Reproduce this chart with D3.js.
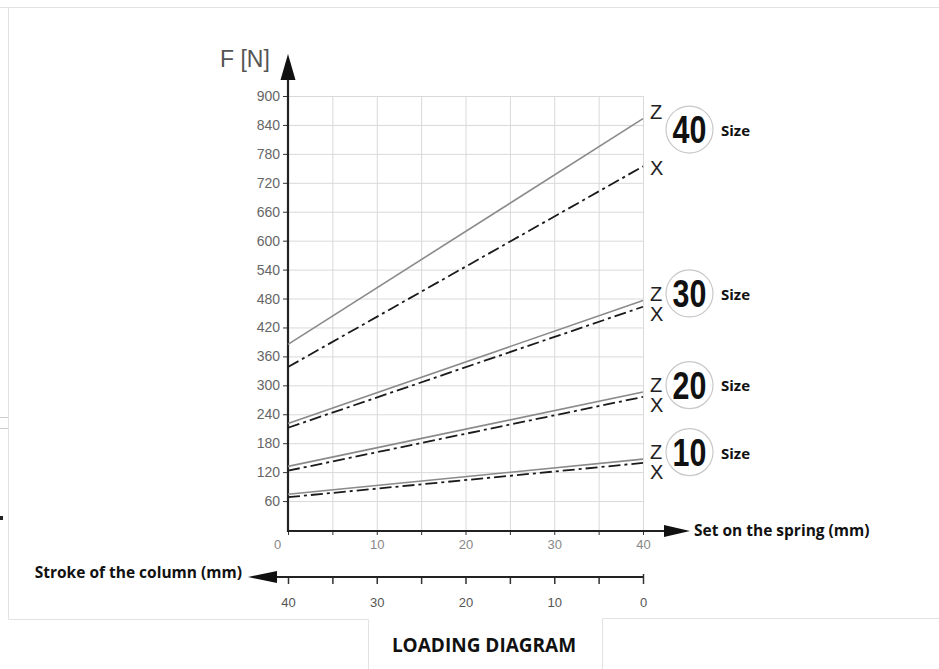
<!DOCTYPE html>
<html lang="en">
<head>
  <meta charset="UTF-8" />
  <title>Loading Diagram</title>
  <script src="https://d3js.org/d3.v7.min.js"></script>
  <style>
    body {margin: 0; background: #fff;}
    .tick line {stroke: #333;}
    .grid line {stroke: #d9d9d9; stroke-width: 1;}
    .bold {font-family: "Open Sans", sans-serif; font-weight: 700; fill: #111;}
  </style>
</head>
<body>
<script>
  // spring travel (mm) and force (N) at both ends of each line
  const travel = [0, 40];
  const sizes = ["40", "30", "20", "10"];
  const zStart = [385, 221, 132, 74];
  const zEnd = [853, 476, 286, 147];
  const xStart = [338, 212, 123, 68];
  const xEnd = [754, 463, 276, 139];
  const forceTicks = [60, 120, 180, 240, 300, 360, 420, 480, 540, 600, 660, 720, 780, 840, 900];
  const travelTicks = [0, 5, 10, 15, 20, 25, 30, 35, 40];

  const width = 939, height = 669;
  const svg = d3.select("body").append("svg")
                .attr("width", width).attr("height", height);

  //****PAGE FRAME****
  const frame = svg.append("g").attr("stroke", "#e2e2e2").attr("fill", "none");
  frame.append("path").attr("d", "M0,7.5H939 M8.5,7.5V619.5H368.5V669 M602.5,669V618.5H939");
  frame.append("path").attr("d", "M0,417.5H8 M0,428.5H8").attr("stroke", "#ccc");
  svg.append("rect").attr("x", 0).attr("y", 516).attr("width", 3).attr("height", 4).attr("fill", "#222");

  //****SCALES****
  const x = d3.scaleLinear().domain([0, 40]).range([288, 643]);
  const y = d3.scaleLinear().domain([0, 900]).range([530, 96]);
  const xStroke = d3.scaleLinear().domain([40, 0]).range([288, 643]);

  //****GRID****
  svg.append("g").attr("class", "grid")
     .selectAll("line.h").data(forceTicks).join("line")
     .attr("x1", x(0)).attr("x2", x(40))
     .attr("y1", d => y(d) + 0.5).attr("y2", d => y(d) + 0.5);
  svg.append("g").attr("class", "grid")
     .selectAll("line.v").data(travelTicks.slice(1)).join("line")
     .attr("x1", d => x(d) + 0.5).attr("x2", d => x(d) + 0.5)
     .attr("y1", y(900)).attr("y2", y(0));

  //****Y AXIS****
  const yAxis = svg.append("g")
     .attr("transform", `translate(${x(0)},0)`)
     .call(d3.axisLeft(y).tickValues(forceTicks).tickSize(5).tickPadding(3));
  yAxis.select(".domain").remove();
  yAxis.selectAll("text").attr("font-family", "Liberation Sans, Arial, sans-serif")
       .attr("font-size", 14).attr("fill", "#666");

  svg.append("line").attr("x1", x(0)).attr("x2", x(0))
     .attr("y1", y(0) + 2).attr("y2", 78)
     .attr("stroke", "#222").attr("stroke-width", 2.2);
  svg.append("path").attr("d", `M${x(0)},54 L${x(0) + 7.5},80 L${x(0) - 7.5},80 Z`).attr("fill", "#111");
  svg.append("text").attr("x", 220).attr("y", 67).text("F [N]")
     .attr("font-family", "Liberation Sans, Arial, sans-serif").attr("font-size", 23).attr("fill", "#555");

  //****X AXIS (spring)****
  const xAxis = svg.append("g")
     .attr("transform", `translate(0,${y(0) + 1})`)
     .call(d3.axisBottom(x).tickValues(travelTicks).tickSize(4).tickPadding(5)
             .tickFormat(d => d % 10 === 0 ? d : ""));
  xAxis.select(".domain").remove();
  xAxis.selectAll("text").attr("font-family", "Liberation Sans, Arial, sans-serif")
       .attr("font-size", 13).attr("fill", "#888");
  xAxis.selectAll(".tick").filter(d => d === 0).select("text").attr("x", -11);

  svg.append("line").attr("x1", x(0) - 1).attr("x2", 668)
     .attr("y1", y(0) + 1).attr("y2", y(0) + 1)
     .attr("stroke", "#222").attr("stroke-width", 2.2);
  svg.append("path").attr("d", `M690,${y(0) + 1} L664,${y(0) - 5} L664,${y(0) + 7} Z`).attr("fill", "#111");
  svg.append("text").attr("class", "bold").attr("x", 694).attr("y", y(0) + 6)
     .attr("font-size", 15.5).text("Set on the spring (mm)");

  //****X AXIS (stroke of the column)****
  const strokeY = 577;
  const sAxis = svg.append("g")
     .attr("transform", `translate(0,${strokeY})`)
     .call(d3.axisBottom(xStroke).tickValues(travelTicks).tickSize(7).tickPadding(14)
             .tickFormat(d => d % 10 === 0 ? d : ""));
  sAxis.select(".domain").remove();
  sAxis.selectAll("text").attr("font-family", "Liberation Sans, Arial, sans-serif")
       .attr("font-size", 13).attr("fill", "#555");
  sAxis.selectAll(".tick line").attr("stroke-width", 1.5);
  sAxis.selectAll(".tick").filter(d => d === 0).select("line").attr("y1", -3);

  svg.append("line").attr("x1", 274).attr("x2", xStroke(0))
     .attr("y1", strokeY).attr("y2", strokeY)
     .attr("stroke", "#222").attr("stroke-width", 1.8);
  svg.append("path").attr("d", `M248,${strokeY} L277,${strokeY - 6} L277,${strokeY + 6} Z`).attr("fill", "#111");
  svg.append("text").attr("class", "bold").attr("x", 242).attr("y", strokeY + 1)
     .attr("text-anchor", "end").attr("font-size", 15.5).text("Stroke of the column (mm)");

  //****LINES****
  const line = d3.line().x(d => x(d.mm)).y(d => y(d.f));
  const zSeries = sizes.map((s, i) => travel.map((mm, j) => ({mm, f: j ? zEnd[i] : zStart[i]})));
  const xSeries = sizes.map((s, i) => travel.map((mm, j) => ({mm, f: j ? xEnd[i] : xStart[i]})));

  svg.selectAll(".zline").data(zSeries).join("path")
     .attr("class", "zline").attr("d", line)
     .attr("fill", "none").attr("stroke", "#8a8a8a").attr("stroke-width", 1.6);
  svg.selectAll(".xline").data(xSeries).join("path")
     .attr("class", "xline").attr("d", line)
     .attr("fill", "none").attr("stroke", "#1a1a1a").attr("stroke-width", 1.8)
     .attr("stroke-dasharray", "12,4,3,4");

  //****END LABELS AND SIZE BADGES****
  const labels = svg.append("g").attr("font-family", "Liberation Sans, Arial, sans-serif")
                    .attr("font-size", 20).attr("fill", "#222");
  sizes.forEach((s, i) => {
    const zy = y(zEnd[i]) - 7;
    const xy = Math.max(y(xEnd[i]) + 1, zy + 20);
    labels.append("text").attr("x", 650).attr("y", zy).attr("dy", "0.36em").text("Z");
    labels.append("text").attr("x", 650).attr("y", xy).attr("dy", "0.36em").text("X");

    const by = (zy + xy) / 2 - 10;
    svg.append("circle").attr("cx", 689.5).attr("cy", by).attr("r", 23.5)
       .attr("fill", "#fff").attr("stroke", "#c8c8c8").attr("stroke-width", 1.2);
    svg.append("text").attr("transform", `translate(689.5,${by}) scale(0.8,1)`)
       .attr("dy", "0.36em").attr("text-anchor", "middle")
       .attr("font-family", "Liberation Sans, Arial, sans-serif")
       .attr("font-weight", 700).attr("font-size", 38).attr("fill", "#111").text(s);
    svg.append("text").attr("class", "bold").attr("x", 721).attr("y", by + 1).attr("dy", "0.36em")
       .attr("font-size", 15).text("Size");
  });

  //****TITLE****
  svg.append("text").attr("class", "bold").attr("x", 484).attr("y", 652)
     .attr("text-anchor", "middle").attr("font-size", 19).text("LOADING DIAGRAM");
</script>
</body>
</html>
